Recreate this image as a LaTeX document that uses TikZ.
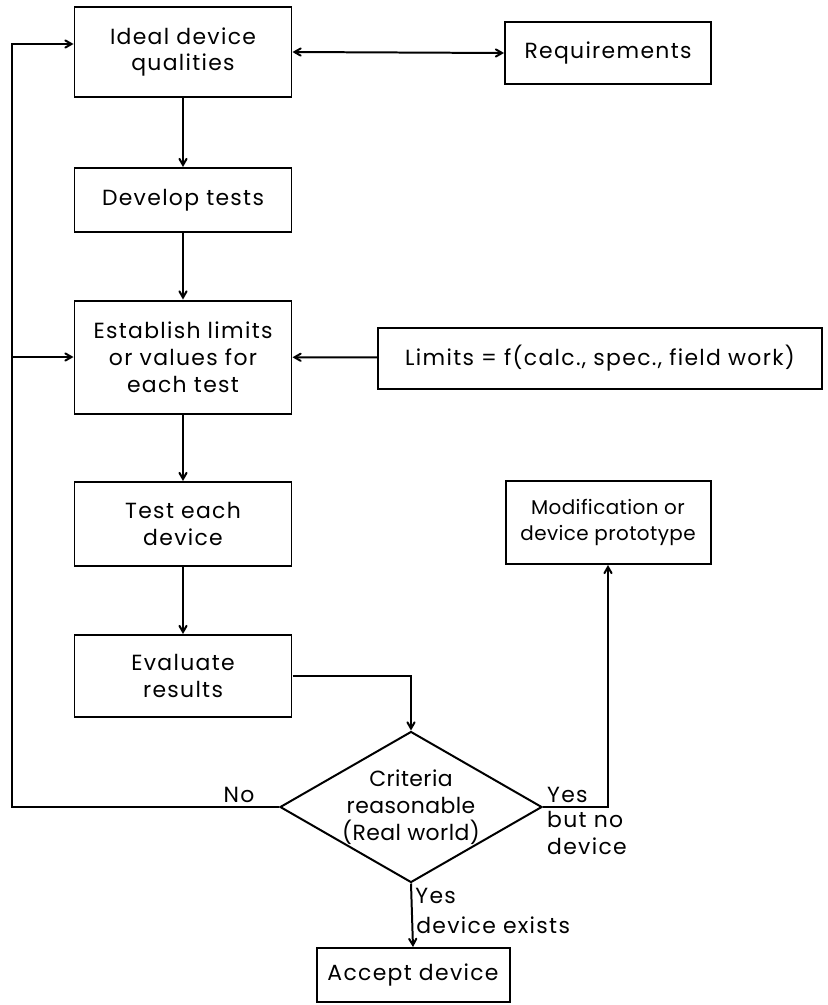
\documentclass[tikz,border=0pt]{standalone}
\usepackage{fontspec}
\setmainfont{Poppins}[LetterSpace=6]
\usetikzlibrary{arrows,shapes}

\begin{document}
\begin{tikzpicture}[>=angle 60,
  box/.style={draw,line width=2pt,align=center,inner sep=0pt},
  decision/.style={draw,line width=2pt,diamond,align=center,inner sep=-16bp,aspect=1.73},
  every node/.style={font=\fontsize{22}{27}\selectfont}]
\useasboundingbox (0bp,0bp) rectangle (828bp,-1005bp);

\node (ideal) at (183bp,-52bp)[box,minimum width=217bp,minimum height=90bp] {Ideal device\\qualities};
\node (req) at (608bp,-53bp)[box,minimum width=206bp,minimum height=62bp] {Requirements};
\node (dev) at (183bp,-200bp)[box,minimum width=217bp,minimum height=64bp] {Develop tests};
\node (estab) at (183bp,-357bp)[box,minimum width=217bp,minimum height=113bp] {Establish limits\\or values for\\each test};
\node (limits) at (600bp,-358bp)[box,minimum width=444bp,minimum height=61bp] {Limits = f(calc., spec., field work)};
\node (test) at (183bp,-524bp)[box,minimum width=217bp,minimum height=84bp] {Test each\\device};
\node (modif) at (608bp,-522.5bp)[box,minimum width=205bp,minimum height=83bp,font=\fontsize{20}{27}\selectfont\addfontfeature{LetterSpace=2}] {Modification or\\device prototype};
\node (eval) at (183bp,-676bp)[box,minimum width=217bp,minimum height=82bp] {Evaluate\\results};
\node (crit) at (411bp,-807bp)[decision,minimum width=262bp,minimum height=151bp,font=\fontsize{22}{27}\selectfont\addfontfeature{LetterSpace=2}] {Criteria\\reasonable\\(Real world)};
\node (accept) at (413bp,-975bp)[box,minimum width=193bp,minimum height=54bp] {Accept device};
\coordinate (corner) at (12bp,-807bp);

\draw [<->,line width=2pt] (ideal.east) -- (req.west);
\draw [->,line width=2pt] (ideal) -- (dev);
\draw [->,line width=2pt] (dev) -- (estab);
\draw [->,line width=2pt] (estab) -- (test);
\draw [->,line width=2pt] (test) -- (eval);
\draw [->,line width=2pt] (limits) -- (estab);
\draw [->,line width=2pt] (eval.east) -| (crit.north);
\draw [->,line width=2pt] (crit.west) -- node[pos=0.15,above] {No} (corner) |- ([yshift=8bp]ideal.west);
\draw [->,line width=2pt] (corner |- estab.west) -- (estab.west);
\draw [->,line width=2pt] (crit.east) -| (modif.south);
\node (yes1) at (crit.east)[anchor=south west,inner sep=4bp] {Yes};
\node (nodev) at (crit.east)[anchor=north west,align=left,inner sep=4bp] {but no\\device};
\draw [->,line width=2pt] (crit.south) -- node[pos=0.2,right,inner sep=3bp] {Yes} node[pos=0.65,right,inner sep=3bp] {device exists} (accept.north);
\end{tikzpicture}
\end{document}
